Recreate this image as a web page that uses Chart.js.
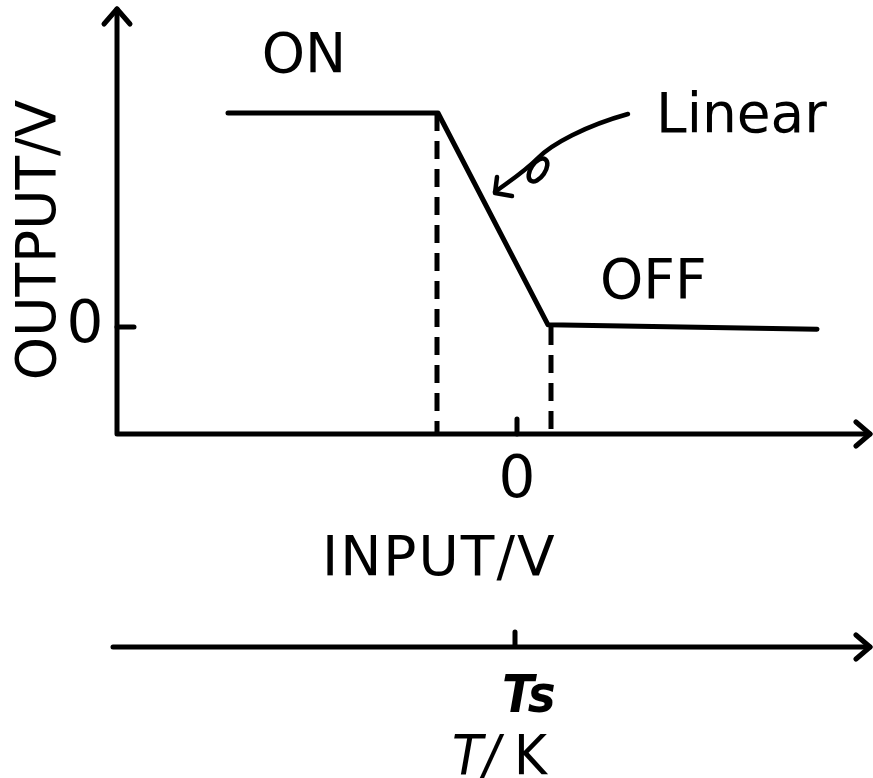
<!DOCTYPE html>
<html>
<head>
<meta charset="utf-8">
<script src="https://cdn.jsdelivr.net/npm/chart.js@4"></script>
<style>
  html, body { margin: 0; padding: 0; background: #fff; }
  canvas { display: block; }
</style>
</head>
<body>
<canvas id="transfer" width="873" height="778"></canvas>
<script>
// transfer curve (input V -> output V), schematic units
const inputX = [-2.89, -0.79, 0.31, 3.0];
const outputY = [1, 1, 0.01, -0.01];
// dashed drop lines at the two corners
const dropX = [-0.80, 0.34];
const dropTop = [1, 0];
const axisMinY = -0.5;
const tickLabelX = '0';
const tickLabelY = '0';

document.addEventListener('DOMContentLoaded', function () {
  const ctx = document.getElementById('transfer').getContext('2d');
  const font = "'DejaVu Sans', sans-serif";

  const arrowHead = (c, x, y, dir) => {
    // open chevron arrow, dir: 'up' or 'right'
    c.beginPath();
    if (dir === 'up') {
      c.moveTo(x - 13, y + 15); c.lineTo(x, y); c.lineTo(x + 13, y + 15);
    } else {
      c.moveTo(x - 14, y - 12); c.lineTo(x, y); c.lineTo(x - 14, y + 12);
    }
    c.stroke();
  };

  const schematic = {
    id: 'schematic',
    afterDraw(chart) {
      const c = chart.ctx;
      const xs = chart.scales.x, ys = chart.scales.y;
      const x0 = xs.getPixelForValue(0);
      const y0 = ys.getPixelForValue(0);
      const left = xs.left, bottom = ys.bottom;
      c.save();
      c.strokeStyle = '#000';
      c.fillStyle = '#000';
      c.lineWidth = 5;
      c.lineCap = 'round';
      c.lineJoin = 'round';

      // axes
      c.beginPath();
      c.moveTo(left, bottom); c.lineTo(left, 9);
      c.moveTo(left, bottom); c.lineTo(870, bottom);
      c.stroke();
      arrowHead(c, left, 9, 'up');
      arrowHead(c, 870, bottom, 'right');
      // ticks
      c.beginPath();
      c.moveTo(left, y0); c.lineTo(left + 17, y0);
      c.moveTo(x0, bottom); c.lineTo(x0, bottom - 15);
      c.stroke();

      // temperature axis below
      const tY = 647;
      c.beginPath();
      c.moveTo(113, tY); c.lineTo(870, tY);
      c.moveTo(x0 - 2, tY); c.lineTo(x0 - 2, tY - 15);
      c.stroke();
      arrowHead(c, 870, tY, 'right');

      // curved pointer from "Linear" to the slope
      c.lineWidth = 4.5;
      c.beginPath();
      c.moveTo(628, 114);
      c.bezierCurveTo(585, 126, 552, 144, 538, 158);
      c.bezierCurveTo(522, 174, 505, 184, 495, 192);
      c.stroke();
      c.beginPath();
      c.ellipse(538, 170, 7, 13, 0.6, 0, Math.PI * 2);
      c.stroke();
      c.beginPath();
      c.moveTo(497, 177); c.lineTo(495, 193); c.lineTo(512, 196);
      c.stroke();

      // text
      c.textBaseline = 'alphabetic';
      c.font = '55px ' + font;
      c.textAlign = 'center';
      c.fillText('ON', 304, 72);
      c.textAlign = 'left';
      c.fillText('OFF', 600, 298);
      c.fillText('Linear', 656, 132);
      c.letterSpacing = '2px';
      c.fillText('INPUT/V', 322, 575);
      c.letterSpacing = '0px';
      c.textAlign = 'center';
      c.font = '58px ' + font;
      c.fillText(tickLabelX, x0, 497);
      c.fillText(tickLabelY, 85, 342);

      c.save();
      c.font = '55px ' + font;
      c.translate(55, 240);
      c.rotate(-Math.PI / 2);
      c.fillText('OUTPUT/V', 0, 0);
      c.restore();

      c.textAlign = 'left';
      c.font = "italic bold 52px 'DejaVu Sans Condensed', " + font;
      c.fillText('Ts', 502, 712);
      c.font = "italic 56px 'DejaVu Sans Condensed', " + font;
      c.fillText('T/', 452, 774);
      c.font = "56px 'DejaVu Sans Condensed', " + font;
      c.fillText('K', 514, 774);
      c.restore();
    }
  };

  const curve = inputX.map((x, i) => ({ x, y: outputY[i] }));
  const drops = dropX.map((x, i) => ({
    data: [{ x, y: dropTop[i] }, { x, y: axisMinY }],
    borderColor: '#000',
    borderWidth: 5,
    borderDash: [18, 10],
    pointRadius: 0,
    showLine: true
  }));

  new Chart(ctx, {
    type: 'scatter',
    data: {
      datasets: [{
        data: curve,
        borderColor: '#000',
        borderWidth: 5,
        pointRadius: 0,
        showLine: true,
        tension: 0,
        borderCapStyle: 'round',
        borderJoinStyle: 'round'
      }, ...drops]
    },
    options: {
      responsive: false,
      animation: false,
      layout: { padding: { left: 117, right: 1, top: 6, bottom: 344 } },
      scales: {
        x: { type: 'linear', min: -4, max: 3.55, display: false },
        y: { type: 'linear', min: axisMinY, max: 1.5, display: false }
      },
      plugins: { legend: { display: false }, tooltip: { enabled: false } }
    },
    plugins: [schematic]
  });
});
</script>
</body>
</html>
